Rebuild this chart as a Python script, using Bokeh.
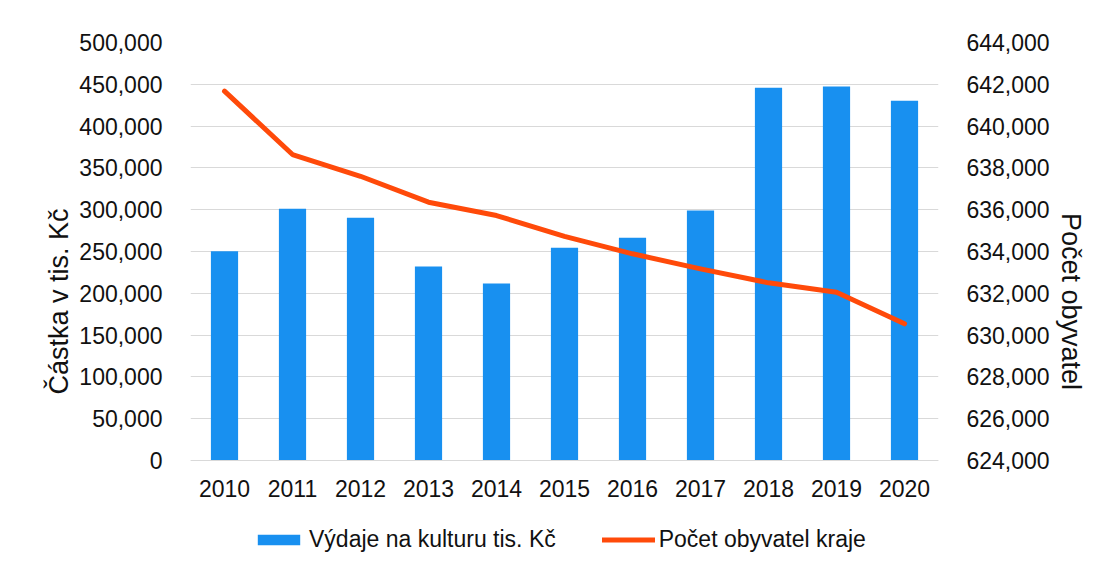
from bokeh.plotting import figure
from bokeh.models import (FactorRange, Range1d, LinearAxis, FixedTicker,
                          NumeralTickFormatter, Legend, LegendItem, Title)
from bokeh.embed import file_html
from bokeh.resources import INLINE

years = ["2010", "2011", "2012", "2013", "2014", "2015", "2016", "2017", "2018", "2019", "2020"]
vydaje = [250400, 301100, 290300, 232100, 211700, 254400, 266400, 299000, 445800, 447400, 430300]
obyvatel = [641670, 638640, 637600, 636360, 635720, 634720, 633890, 633170, 632500, 632050, 630540]
left_ticks = [0, 50000, 100000, 150000, 200000, 250000, 300000, 350000, 400000, 450000, 500000]
right_ticks = [624000, 626000, 628000, 630000, 632000, 634000, 636000, 638000, 640000, 642000, 644000]

FONT = "Liberation Sans"
BAR = "#1890F0"
LINE = "#FF4A0A"
GRID = "#d9d9d9"

W, H = 1096, 560
TOP, PLOT_H, BELOW = 42, 418, 100   # plotted value band and space under zero (px)
left_lo = -left_ticks[-1] * BELOW / PLOT_H
right_lo = right_ticks[0] - (right_ticks[-1] - right_ticks[0]) * BELOW / PLOT_H

p = figure(x_range=FactorRange(factors=years), y_range=Range1d(left_lo, left_ticks[-1]),
           width=W, height=H, output_backend="svg", toolbar_location=None,
           min_border_left=190, min_border_right=158, min_border_top=TOP, min_border_bottom=0,
           y_axis_location=None)
p.extra_y_ranges = {"pop": Range1d(right_lo, right_ticks[-1])}
p.outline_line_color = None
p.background_fill_color = "white"
p.border_fill_color = "white"

bars = p.vbar(x=years, top=vydaje, width=0.4, fill_color=BAR, line_color=None)
line = p.line(x=years, y=obyvatel, y_range_name="pop", line_color=LINE, line_width=5,
              line_cap="round", line_join="round")

def style_axis(ax):
    ax.major_tick_line_color = None
    ax.minor_tick_line_color = None
    ax.major_label_text_font = FONT
    ax.major_label_text_font_size = "23px"
    ax.major_label_text_color = "#111111"

# x axis drawn at zero
xa = p.xaxis[0]
style_axis(xa)
xa.axis_line_color = GRID
xa.major_label_standoff = 13
xa.fixed_location = 0

# left axis
la = LinearAxis(ticker=FixedTicker(ticks=left_ticks),
                formatter=NumeralTickFormatter(format="0,0"))
style_axis(la)
la.axis_line_color = None
la.major_label_standoff = 22
p.add_layout(la, "left")

# right axis
ra = LinearAxis(y_range_name="pop", ticker=FixedTicker(ticks=right_ticks),
                formatter=NumeralTickFormatter(format="0,0"))
style_axis(ra)
ra.axis_line_color = None
ra.major_label_standoff = 22
p.add_layout(ra, "right")

# axis titles
lt = Title(text="Částka v tis. Kč", align="center", offset=53, text_font=FONT,
           text_font_size="27px", text_font_style="normal", text_color="#111111", standoff=6)
p.add_layout(lt, "left")
rt = Title(text="Počet obyvatel", align="center", offset=-53, text_font=FONT,
           text_font_size="27px", text_font_style="normal", text_color="#111111", standoff=6)
p.add_layout(rt, "right")

p.xgrid.grid_line_color = None
p.ygrid.grid_line_color = GRID
p.ygrid.grid_line_width = 1
p.ygrid.ticker = FixedTicker(ticks=left_ticks)

legend = Legend(items=[LegendItem(label="Výdaje na kulturu tis. Kč", renderers=[bars]),
                       LegendItem(label="Počet obyvatel kraje", renderers=[line])],
                orientation="horizontal", location=(62, 7),
                glyph_width=53, glyph_height=13, label_standoff=4, spacing=46,
                padding=0, margin=0, border_line_color=None, background_fill_alpha=0,
                label_text_font=FONT, label_text_font_size="23px", label_text_color="#111111")
p.add_layout(legend, "center")

open("out.html", "w").write(file_html(p, INLINE))
